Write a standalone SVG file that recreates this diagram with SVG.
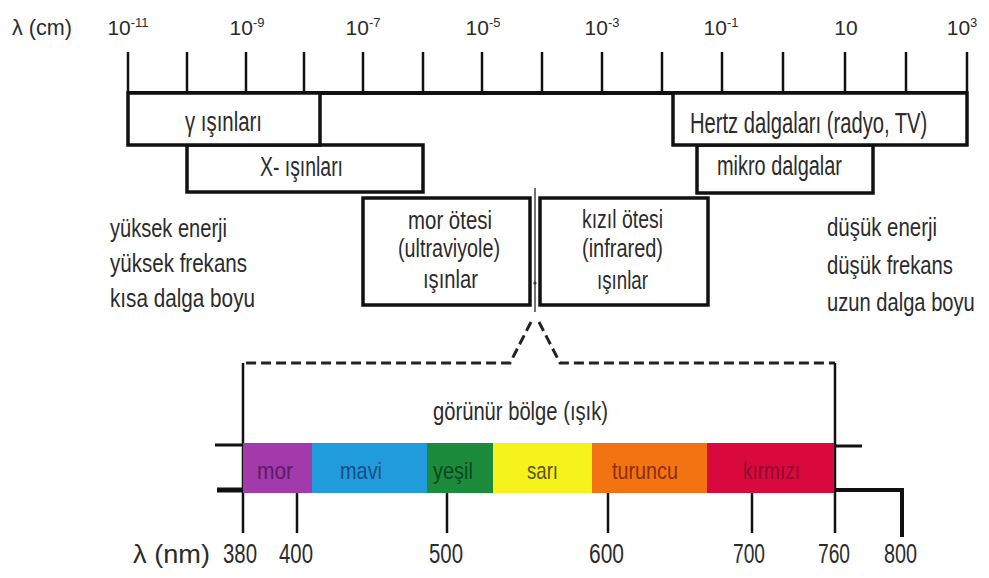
<svg xmlns="http://www.w3.org/2000/svg" width="989" height="578" viewBox="0 0 989 578">
<defs>
<style>
text{font-family:"Liberation Sans",Arial,sans-serif;fill:#2b2b2b}
.box{fill:#fff;stroke:#111;stroke-width:3.5}
.tick{stroke:#111;stroke-width:2.5}
.axis{stroke:#111;stroke-width:4}
.dash{fill:none;stroke:#222;stroke-width:3;stroke-dasharray:10 5}
.thin{fill:none;stroke:#444;stroke-width:1.5}
.top{font-size:21px}
.sup{font-size:13px}
.lbl{font-size:27px}
.side{font-size:26px}
.num{font-size:28px}
.col{font-size:24px}
</style>
</defs>
<rect width="989" height="578" fill="#fff"/>

<g id="cm-axis">
<text x="12" y="35" font-size="22" textLength="60" lengthAdjust="spacingAndGlyphs">λ (cm)</text>
<line class="axis" x1="128" y1="93" x2="967" y2="93"/>
<line class="tick" x1="128" y1="52" x2="128" y2="93"/>
<line class="tick" x1="187" y1="52" x2="187" y2="93"/>
<line class="tick" x1="246" y1="52" x2="246" y2="93"/>
<line class="tick" x1="304" y1="52" x2="304" y2="93"/>
<line class="tick" x1="363" y1="52" x2="363" y2="93"/>
<line class="tick" x1="423" y1="52" x2="423" y2="93"/>
<line class="tick" x1="482" y1="52" x2="482" y2="93"/>
<line class="tick" x1="542" y1="52" x2="542" y2="93"/>
<line class="tick" x1="602" y1="52" x2="602" y2="93"/>
<line class="tick" x1="662" y1="52" x2="662" y2="93"/>
<line class="tick" x1="722" y1="52" x2="722" y2="93"/>
<line class="tick" x1="783" y1="52" x2="783" y2="93"/>
<line class="tick" x1="845" y1="52" x2="845" y2="93"/>
<line class="tick" x1="906" y1="52" x2="906" y2="93"/>
<line class="tick" x1="967" y1="52" x2="967" y2="93"/>
<text class="top" x="128" y="35" text-anchor="middle">10<tspan class="sup" dy="-8">-11</tspan></text>
<text class="top" x="247" y="35" text-anchor="middle">10<tspan class="sup" dy="-8">-9</tspan></text>
<text class="top" x="363" y="35" text-anchor="middle">10<tspan class="sup" dy="-8">-7</tspan></text>
<text class="top" x="483" y="35" text-anchor="middle">10<tspan class="sup" dy="-8">-5</tspan></text>
<text class="top" x="602" y="35" text-anchor="middle">10<tspan class="sup" dy="-8">-3</tspan></text>
<text class="top" x="721" y="35" text-anchor="middle">10<tspan class="sup" dy="-8">-1</tspan></text>
<text class="top" x="846" y="35" text-anchor="middle">10</text>
<text class="top" x="962" y="35" text-anchor="middle">10<tspan class="sup" dy="-8">3</tspan></text>
</g>

<g id="xray">
<rect class="box" x="187" y="145" width="236" height="47"/>
<text class="lbl" x="260" y="176" textLength="83" lengthAdjust="spacingAndGlyphs">X- ışınları</text>
</g>
<g id="gamma">
<rect class="box" x="128" y="93" width="192" height="52"/>
<text class="lbl" x="185" y="131" textLength="77" lengthAdjust="spacingAndGlyphs">γ ışınları</text>
</g>
<g id="micro">
<rect class="box" x="697" y="145" width="176" height="48"/>
<text class="lbl" x="717" y="175" textLength="125" lengthAdjust="spacingAndGlyphs">mikro dalgalar</text>
</g>
<g id="hertz">
<rect class="box" x="673" y="93" width="294" height="52"/>
<text transform="translate(690,133) scale(0.673,1)" x="0" y="0" font-size="30">Hertz dalgaları (radyo, TV)</text>
</g>
<g id="uv">
<rect class="box" x="363" y="198" width="167" height="107"/>
<text class="side" x="408" y="229" textLength="84" lengthAdjust="spacingAndGlyphs">mor ötesi</text>
<text class="side" x="398" y="257" textLength="102" lengthAdjust="spacingAndGlyphs">(ultraviyole)</text>
<text class="side" x="423" y="288" textLength="55" lengthAdjust="spacingAndGlyphs">ışınlar</text>
</g>
<g id="ir">
<rect class="box" x="540" y="198" width="168" height="107"/>
<text class="side" x="582" y="228" textLength="81" lengthAdjust="spacingAndGlyphs">kızıl ötesi</text>
<text class="side" x="582" y="257" textLength="81" lengthAdjust="spacingAndGlyphs">(infrared)</text>
<text class="side" x="597" y="289" textLength="51" lengthAdjust="spacingAndGlyphs">ışınlar</text>
</g>

<g id="high-energy">
<text class="side" x="110" y="237" textLength="117" lengthAdjust="spacingAndGlyphs">yüksek enerji</text>
<text class="side" x="110" y="272" textLength="137" lengthAdjust="spacingAndGlyphs">yüksek frekans</text>
<text class="side" x="110" y="307" textLength="145" lengthAdjust="spacingAndGlyphs">kısa dalga boyu</text>
</g>
<g id="low-energy">
<text class="side" x="827" y="236" textLength="110" lengthAdjust="spacingAndGlyphs">düşük enerji</text>
<text class="side" x="827" y="274" textLength="126" lengthAdjust="spacingAndGlyphs">düşük frekans</text>
<text class="side" transform="translate(827,311) scale(0.775,1)" x="0" y="0">uzun dalga boyu</text>
</g>

<g id="connectors">
<line class="thin" x1="535" y1="188" x2="535" y2="312"/>
<circle cx="535" cy="283" r="1.6" fill="#333"/>
<path class="dash" d="M531,322 L510,363 L243,363"/>
<path class="dash" d="M539,322 L560,363 L835,363"/>
<line class="tick" x1="243" y1="363" x2="243" y2="533"/>
<line class="tick" x1="835" y1="363" x2="835" y2="533"/>
</g>

<g id="visible">
<text x="433" y="420" font-size="25" textLength="175" lengthAdjust="spacingAndGlyphs">görünür bölge (ışık)</text>
</g>

<g id="spectrum">
<line stroke="#111" stroke-width="3" x1="215" y1="445" x2="243" y2="445"/>
<line stroke="#111" stroke-width="5" x1="217" y1="490" x2="243" y2="490"/>
<line stroke="#111" stroke-width="3" x1="835" y1="446" x2="862" y2="446"/>
<polyline fill="none" stroke="#111" stroke-width="4" points="835,490 902,490 902,537"/>
<rect x="243" y="443" width="70" height="50" fill="#a23aab"/>
<rect x="312" y="443" width="116" height="50" fill="#1f9cd9"/>
<rect x="427" y="443" width="67" height="50" fill="#1c8b3b"/>
<rect x="493" y="443" width="100" height="50" fill="#f6f21c"/>
<rect x="592" y="443" width="116" height="50" fill="#f37212"/>
<rect x="707" y="443" width="127" height="50" fill="#d9093d"/>
<text class="col" x="257" y="479" textLength="36" lengthAdjust="spacingAndGlyphs" style="fill:#5a1c66">mor</text>
<text class="col" x="340" y="479" textLength="42" lengthAdjust="spacingAndGlyphs" style="fill:#1d4a8c">mavi</text>
<text class="col" x="433" y="479" textLength="40" lengthAdjust="spacingAndGlyphs" style="fill:#0d4620">yeşil</text>
<text class="col" x="527" y="479" textLength="31" lengthAdjust="spacingAndGlyphs" style="fill:#5a5418">sarı</text>
<text class="col" x="612" y="479" textLength="66" lengthAdjust="spacingAndGlyphs" style="fill:#8a2e04">turuncu</text>
<text class="col" x="743" y="479" textLength="57" lengthAdjust="spacingAndGlyphs" style="fill:#8e0a2c">kırmızı</text>
</g>

<g id="nm-axis">
<line class="tick" stroke-width="3" x1="297" y1="493" x2="297" y2="533"/>
<line class="tick" stroke-width="3" x1="447" y1="493" x2="447" y2="533"/>
<line class="tick" stroke-width="3" x1="608" y1="493" x2="608" y2="533"/>
<line class="tick" stroke-width="3" x1="752" y1="493" x2="752" y2="533"/>
<text x="133" y="563" font-size="26" textLength="77" lengthAdjust="spacingAndGlyphs">λ (nm)</text>
<text class="num" x="223" y="563" textLength="34" lengthAdjust="spacingAndGlyphs">380</text>
<text class="num" x="279" y="563" textLength="34" lengthAdjust="spacingAndGlyphs">400</text>
<text class="num" x="429" y="563" textLength="34" lengthAdjust="spacingAndGlyphs">500</text>
<text class="num" x="589" y="563" textLength="35" lengthAdjust="spacingAndGlyphs">600</text>
<text class="num" x="733" y="563" textLength="32" lengthAdjust="spacingAndGlyphs">700</text>
<text class="num" x="818" y="563" textLength="32" lengthAdjust="spacingAndGlyphs">760</text>
<text class="num" x="884" y="563" textLength="33" lengthAdjust="spacingAndGlyphs">800</text>
</g>
</svg>
